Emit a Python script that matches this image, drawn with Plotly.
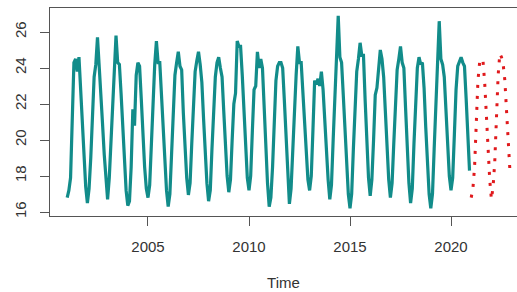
import plotly.graph_objects as go

# Monthly observed series, Jan 2001 .. Dec 2020
start_year = 2001
observed = [
    16.8, 17.2, 17.9, 21.0, 24.3, 24.5, 23.8, 24.6, 22.8, 20.8, 18.9, 17.4,  # 2001
    16.5, 17.3, 19.0, 21.5, 23.5, 24.2, 25.7, 24.1, 22.8, 20.9, 19.2, 17.9,  # 2002
    16.7, 17.9, 20.0, 22.5, 24.3, 25.8, 24.3, 24.2, 22.6, 20.5, 18.6, 17.2,  # 2003
    16.35, 16.6, 18.5, 21.7, 20.8, 23.6, 24.3, 24.1, 22.3, 20.2, 18.5, 17.3,  # 2004
    16.8, 17.5, 19.8, 22.5, 24.2, 25.5, 24.3, 24.3, 22.6, 20.6, 18.6, 17.2,  # 2005
    16.3, 17.0, 19.2, 21.8, 23.6, 24.3, 24.9, 24.1, 23.9, 21.5, 19.3, 17.9,  # 2006
    16.95, 17.6, 19.8, 22.0, 23.8, 24.4, 24.9, 24.2, 23.2, 21.2, 19.2, 17.6,  # 2007
    16.6, 17.2, 19.5, 21.8, 23.5, 24.3, 24.6, 24.0, 23.5, 21.6, 19.6, 18.0,  # 2008
    17.1, 17.8, 20.0, 22.0, 22.6, 25.5, 25.2, 25.2, 23.6, 21.4, 19.3, 17.9,  # 2009
    17.2, 18.0, 20.5, 22.8, 23.0, 24.9, 24.0, 24.5, 24.0, 21.5, 19.2, 17.6,  # 2010
    16.3, 16.8, 18.5, 21.0, 23.3, 24.1, 24.3, 24.3, 24.0, 22.2, 20.1, 18.0,  # 2011
    16.45, 17.3, 19.5, 22.0, 23.6, 25.2, 24.3, 24.3, 22.6, 21.0, 19.1, 17.8,  # 2012
    17.2, 18.0, 20.6, 23.3, 23.1, 23.4, 23.0, 23.8, 22.8, 21.0, 19.3, 17.8,  # 2013
    16.7, 17.5, 20.0, 22.5, 24.0, 26.9, 24.6, 24.3, 22.5, 20.5, 18.5, 17.0,  # 2014
    16.2, 17.0, 19.5, 22.0, 23.8, 24.5, 25.4, 24.7, 24.7, 22.2, 19.8, 17.9,  # 2015
    16.9, 17.8, 20.0, 22.5, 22.9, 24.0, 25.0, 24.5, 23.5, 21.6, 19.5, 17.8,  # 2016
    16.8, 17.6, 19.8, 22.3, 23.9, 24.5, 25.2, 24.3, 24.0, 21.8, 19.3, 17.6,  # 2017
    16.5, 17.3, 19.8, 22.3, 24.0, 24.6, 24.2, 24.3, 22.9, 20.7, 18.5, 17.0,  # 2018
    16.2, 17.0, 19.5, 22.0, 24.2, 26.6, 24.5, 24.2, 23.5, 21.5, 19.5, 18.0,  # 2019
    17.2, 17.9, 20.3, 22.8, 24.1, 24.4, 24.6, 24.3, 24.1, 22.3, 20.3, 18.3,  # 2020
]

# Monthly forecast, Jan 2021 .. Dec 2022
forecast_start = 2021
forecast = [
    16.8, 17.3, 18.5, 21.0, 23.3, 24.3, 24.5, 24.4, 23.2, 21.4, 19.2, 17.8,  # 2021
    16.7, 17.4, 18.8, 21.3, 23.6, 24.8, 24.6, 24.2, 23.3, 21.6, 20.0, 18.3,  # 2022
]

x_ticks = [2005, 2010, 2015, 2020]
y_ticks = [16, 18, 20, 22, 24, 26]

x_obs = [start_year + i / 12 for i in range(len(observed))]
x_fc = [forecast_start + i / 12 for i in range(len(forecast))]

fig = go.Figure()
fig.add_trace(go.Scatter(x=x_obs, y=observed, mode="lines",
                         line=dict(color="#128c8a", width=3.2), showlegend=False))
fig.add_trace(go.Scatter(x=x_fc, y=forecast, mode="lines",
                         line=dict(color="#e0191c", width=3, dash="3px,8px"),
                         showlegend=False))

axis_col = "#555555"
text_col = "#333333"
fig.update_layout(
    width=517, height=292,
    margin=dict(l=50, r=0, t=8, b=76),
    paper_bgcolor="white", plot_bgcolor="white",
    font=dict(family="Liberation Sans, Arial, sans-serif", size=15, color=text_col),
    xaxis=dict(range=[2000.149, 2023.267], tickvals=x_ticks, ticktext=[str(v) for v in x_ticks],
               showgrid=False, zeroline=False, showline=True, linecolor=axis_col, linewidth=1,
               mirror=True, ticks="outside", ticklen=9, tickcolor=axis_col,
               ticklabelstandoff=8, automargin=False,
               title=dict(text="Time", standoff=23, font=dict(size=15, color=text_col))),
    yaxis=dict(range=[15.778, 27.333], tickvals=y_ticks, ticktext=[str(v) for v in y_ticks],
               showgrid=False, zeroline=False, showline=True, linecolor=axis_col, linewidth=1,
               ticks="outside", ticklen=9, tickcolor=axis_col, tickangle=-90,
               ticklabelstandoff=8, automargin=False),
)

fig.write_html("out.html", config={"displayModeBar": False},
               post_script="document.body.style.margin='0';document.body.style.overflow='hidden';")
